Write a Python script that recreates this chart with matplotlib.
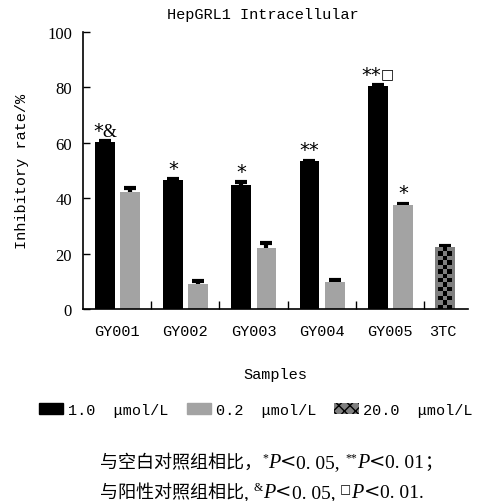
import numpy as np
import matplotlib
matplotlib.use('Agg')
import matplotlib.pyplot as plt
from matplotlib.patches import Patch
from matplotlib.transforms import IdentityTransform, offset_copy

# data
samples = ['GY001', 'GY002', 'GY003', 'GY004', 'GY005']
high_dose = [60.2, 46.6, 44.8, 53.3, 80.4]      # 1.0 umol/L
high_err = [0.5, 0.3, 1.0, 0.3, 0.3]
low_dose = [42.2, 9.1, 22.1, 9.6, 37.6]         # 0.2 umol/L
low_err = [1.5, 1.1, 1.9, 0.8, 0.4]
ctrl_name = '3TC'
ctrl_value = [22.3]                             # 20.0 umol/L
ctrl_err = [0.3]
# significance marks: (vs blank, vs positive control)
high_marks = [('*', '&'), ('*', ''), ('*', ''), ('**', ''), ('**', '\u25a1')]
low_marks = [('', ''), ('', ''), ('', ''), ('', ''), ('*', '')]
legend_labels = ['1.0  \u03bcmol/L', '0.2  \u03bcmol/L', '20.0  \u03bcmol/L']

W, H = 479, 502
MONO = 'Liberation Mono'
SERIF = 'Liberation Serif'
CJK = 'Noto Sans CJK SC'
BLACK = '#000000'
GRAY = '#a3a3a3'
DARK = '#7f7f7f'

fig = plt.figure(figsize=(W / 100, H / 100), dpi=100)
ax = fig.add_axes([83 / W, 1 - 310 / H, 385 / W, 277 / H])
renderer = fig.canvas.get_renderer()

grp = np.arange(len(samples))
bw = 0.29
x_hi = grp + 0.32
x_lo = grp + 0.69
x_ctrl = np.array([len(samples) + 0.31])

eb = dict(fmt='none', ecolor='black', elinewidth=3, capsize=4, capthick=3,
          zorder=1)
ax.errorbar(x_hi, high_dose, yerr=high_err, **eb)
ax.errorbar(x_lo, low_dose, yerr=low_err, **eb)
ax.errorbar(x_ctrl, ctrl_value, yerr=ctrl_err, **eb)
ax.bar(x_hi, high_dose, bw, color=BLACK, zorder=2)
ax.bar(x_lo, low_dose, bw, color=GRAY, zorder=2)
ctrl_bars = ax.bar(x_ctrl, ctrl_value, bw, color=DARK, zorder=2)

# checker pattern on the control bar
rect = ctrl_bars[0]
bx, by = rect.get_x(), rect.get_y()
bwid, bht = rect.get_width(), rect.get_height()
rows = int(round(bht / 1.6))
checker = np.indices((rows, 3)).sum(axis=0) % 2
rgba = np.zeros((rows, 3, 4))
rgba[..., 3] = checker
ax.imshow(rgba, extent=(bx + bwid * 0.15, bx + bwid * 0.85, by, by + bht),
          aspect='auto', interpolation='nearest', zorder=3, clip_path=rect)

ax.set_xlim(0, 5.645)
ax.set_ylim(0, 100)


def draw_mark(x, y, stars, extra):
    pieces = []
    if stars:
        pieces.append((stars, dict(family=['DejaVu Sans'], size=14), 0))
    if extra == '&':
        pieces.append((extra, dict(family=[SERIF], size=13), 0))
    elif extra:
        pieces.append((extra, dict(family=['DejaVu Sans'], size=10), 3))
    texts = [(ax.text(x, y, s, ha='left', va='baseline', **kw), dy)
             for s, kw, dy in pieces]
    widths = [t.get_window_extent(renderer).width for t, _ in texts]
    dx = -sum(widths) / 2
    for (t, dy), w in zip(texts, widths):
        t.set_transform(offset_copy(ax.transData, fig=fig, x=dx, y=dy,
                                    units='dots'))
        dx += w


for x, v, e, m in zip(x_hi, high_dose, high_err, high_marks):
    if any(m):
        draw_mark(x, v + e + 1.9, *m)
for x, v, e, m in zip(x_lo, low_dose, low_err, low_marks):
    if any(m):
        draw_mark(x, v + e + 1.9, *m)

ax.set_yticks(np.arange(0, 101, 20))
ax.tick_params(axis='y', direction='in', length=5, width=1, pad=8,
               labelsize=12)
for lab in ax.get_yticklabels():
    lab.set_family(SERIF)
ax.set_xticks(list(grp + 0.5) + [x_ctrl[0] - 0.03])
ax.set_xticklabels(samples + [ctrl_name], family=MONO, fontsize=11)
ax.tick_params(axis='x', length=0, pad=11)
ax.set_xticks(np.arange(1, len(samples) + 1), minor=True)
ax.tick_params(axis='x', which='minor', direction='in', length=6, width=1)
for s in ['top', 'right']:
    ax.spines[s].set_visible(False)
ax.spines['left'].set_linewidth(1.2)
ax.spines['bottom'].set_linewidth(1.2)

fig.text(263 / W, 1 - 15 / H, 'HepGRL1 Intracellular', ha='center',
         va='center', family=MONO, fontsize=11)
fig.text(22 / W, 1 - 171 / H, 'Inhibitory rate/%', rotation=90,
         ha='center', va='center', family=MONO, fontsize=11)
fig.text(275 / W, 1 - 375 / H, 'Samples', ha='center', va='center',
         family=MONO, fontsize=11)

handles = [Patch(facecolor=BLACK, edgecolor=BLACK),
           Patch(facecolor=GRAY, edgecolor=GRAY),
           Patch(facecolor=DARK, edgecolor='black', linewidth=0, hatch='xxx')]
fig.legend(handles, legend_labels, loc='center', ncol=3, frameon=False,
           bbox_to_anchor=(256 / W, 1 - 411 / H),
           prop={'family': MONO, 'size': 11}, handlelength=1.6,
           handleheight=0.7, handletextpad=0.3, columnspacing=1.2)


def draw_runs(x0, y0, runs):
    x = x0
    for s, kw in runs:
        kw = dict(kw)
        dy = kw.pop('dy', 0)
        t = fig.text(x, H - y0 + dy, s, transform=IdentityTransform(),
                     va='baseline', ha='left', **kw)
        x += t.get_window_extent(renderer).width


cjk = {'family': [CJK, 'DejaVu Sans'], 'size': 13}
sup = {'family': [SERIF, 'DejaVu Sans'], 'size': 8.5, 'dy': 7}
box = {'family': ['DejaVu Sans'], 'size': 8.5, 'dy': 5}
ital = {'family': [SERIF], 'size': 14.5, 'style': 'italic'}
lt = {'family': ['DejaVu Serif'], 'size': 14}
num = {'family': [SERIF, 'DejaVu Sans'], 'size': 14}

draw_runs(100, 468, [
    ('与空白对照组相比，', cjk), ('*', sup), ('P', ital), ('<', lt),
    ('0. 05, ', num), ('**', sup), ('P', ital), ('<', lt),
    ('0. 01', num), ('；', cjk)])
draw_runs(100, 498, [
    ('与阳性对照组相比', cjk), (', ', num), ('&', sup), ('P', ital),
    ('<', lt), ('0. 05, ', num), ('\u25a1', box), ('P', ital), ('<', lt),
    ('0. 01.', num)])

fig.savefig('out.png', dpi=100)
